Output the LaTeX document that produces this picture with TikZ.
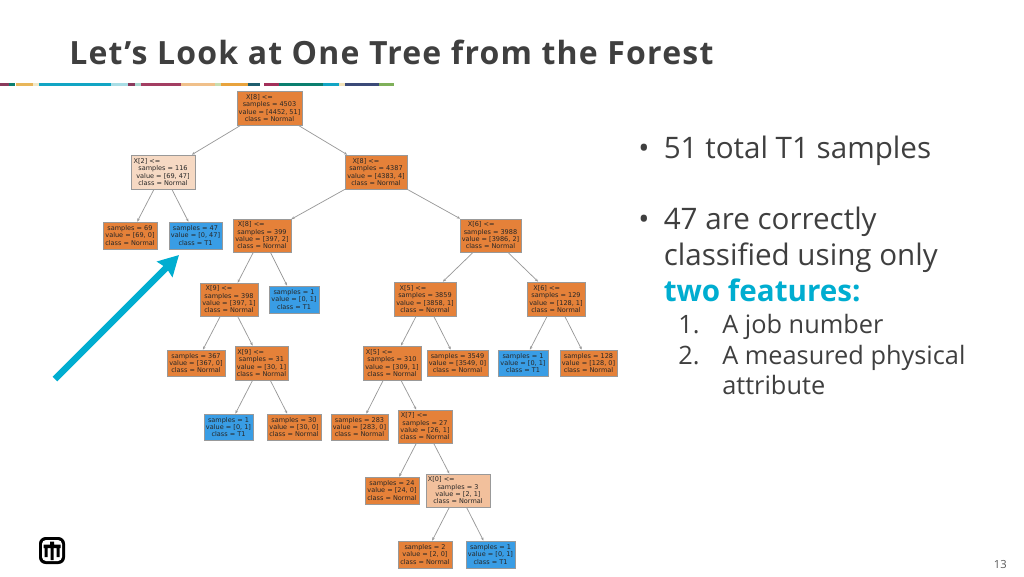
\documentclass[tikz,border=0pt]{standalone}
\usepackage{fontspec}
\usetikzlibrary{arrows.meta}
\setmainfont{Open Sans}
\newfontfamily\treefont{DejaVu Sans}
\definecolor{leaforange}{HTML}{E58139}
\definecolor{leafblue}{HTML}{399DE5}
\definecolor{paleorange}{HTML}{F6D9C3}
\definecolor{midorange}{HTML}{F2C09C}
\definecolor{arrowteal}{HTML}{00ADD0}
\definecolor{titlegray}{HTML}{3F3F3F}
% first line of a split box, pushed left by a hidden threshold
\newcommand{\featline}[2]{#1\rule{#2}{0pt}}
% name, left, top, right, bottom, fill, text
\newcommand{\treenode}[7]{
    \node[treebox,fill=#6,minimum width={(#4-#2)*.75pt},minimum height={(#5-#3)*.75pt}] (#1) at ({(#2+#4)/2},{(#3+#5)/2}) {#7};
}
\tikzset{
    treebox/.style={draw=black!40,line width=.5pt,inner sep=0pt,align=center,
        font=\treefont\fontsize{4.9}{5.5}\selectfont,text=black!85},
    treeedge/.style={draw=black!40,line width=.55pt,-{Stealth[length=2.5pt,width=2pt]}},
    bullettext/.style={anchor=base west,inner sep=0pt,font=\fontsize{22.2}{26}\selectfont,text=titlegray},
    subtext/.style={anchor=base west,inner sep=0pt,font=\fontsize{19}{24}\selectfont,text=titlegray}
}
\begin{document}
\begin{tikzpicture}[x=.75pt,y=-.75pt]
    \useasboundingbox (0,0) rectangle (1024,576);
    % title and colour bar
    \node[anchor=base west,inner sep=0pt,font=\bfseries\fontsize{24}{28}\selectfont\addfontfeature{LetterSpace=3.8},text=titlegray] (title) at (69,64) {Let’s Look at One Tree from the Forest};
    \foreach \a/\b/\c in {0/9/8A3A5C,9/15/0B7F6F,16/33/E8B65A,33/39/F2E8C8,39/111/12A5C4,111/128/A8DDE5,128/135/8A3A5C,135/141/A8D8D0,141/181/A33E62,181/215/F0C08A,215/221/C8DDB0,221/248/E8A33D,248/260/1F5E6E,260/264/FFFFFF,264/279/A3305A,279/323/0B7F6F,323/339/12A5C4,339/345/F2E2B8,345/379/3B4A78,379/394/7FB05A}{
        \definecolor{barcolor}{HTML}{\c}
        \fill[barcolor] (\a,83) rectangle (\b,86);
    };

    % the tree
    \treenode{root}{237}{91}{302}{125}{leaforange}{\featline{X[8] <=}{15pt}\\samples = 4503\\value = [4452, 51]\\class = Normal}
    \treenode{xtwo}{131}{155}{195}{189}{paleorange}{\featline{X[2] <=}{24pt}\\samples = 116\\value = [69, 47]\\class = Normal}
    \treenode{leafa}{103}{222}{157}{249}{leaforange}{samples = 69\\value = [69, 0]\\class = Normal}
    \treenode{leafb}{169}{222}{222}{249}{leafblue}{samples = 47\\value = [0, 47]\\class = T1}
    \treenode{xeight}{345}{155}{407}{189}{leaforange}{\featline{X[8] <=}{15pt}\\samples = 4387\\value = [4383, 4]\\class = Normal}
    \treenode{xeightb}{233}{219}{291}{252}{leaforange}{\featline{X[8] <=}{16pt}\\samples = 399\\value = [397, 2]\\class = Normal}
    \treenode{xsix}{460}{219}{521}{252}{leaforange}{\featline{X[6] <=}{14pt}\\samples = 3988\\value = [3986, 2]\\class = Normal}
    \treenode{xnine}{200}{283}{258}{316}{leaforange}{\featline{X[9] <=}{15pt}\\samples = 398\\value = [397, 1]\\class = Normal}
    \treenode{leafc}{269}{286}{319}{313}{leafblue}{samples = 1\\value = [0, 1]\\class = T1}
    \treenode{xfive}{394}{282}{456}{316}{leaforange}{\featline{X[5] <=}{18pt}\\samples = 3859\\value = [3858, 1]\\class = Normal}
    \treenode{xsixb}{527}{282}{585}{316}{leaforange}{\featline{X[6] <=}{14pt}\\samples = 129\\value = [128, 1]\\class = Normal}
    \treenode{leafd}{167}{350}{225}{376}{leaforange}{samples = 367\\value = [367, 0]\\class = Normal}
    \treenode{xnineb}{235}{346}{288}{380}{leaforange}{\featline{X[9] <=}{16pt}\\samples = 31\\value = [30, 1]\\class = Normal}
    \treenode{xfiveb}{363}{346}{421}{380}{leaforange}{\featline{X[5] <=}{19pt}\\samples = 310\\value = [309, 1]\\class = Normal}
    \treenode{leafe}{427}{350}{488}{376}{leaforange}{samples = 3549\\value = [3549, 0]\\class = Normal}
    \treenode{leaff}{498}{350}{548}{376}{leafblue}{samples = 1\\value = [0, 1]\\class = T1}
    \treenode{leafg}{560}{350}{617}{376}{leaforange}{samples = 128\\value = [128, 0]\\class = Normal}
    \treenode{leafh}{204}{414}{253}{440}{leafblue}{samples = 1\\value = [0, 1]\\class = T1}
    \treenode{leafi}{267}{414}{321}{440}{leaforange}{samples = 30\\value = [30, 0]\\class = Normal}
    \treenode{leafj}{331}{414}{388}{440}{leaforange}{samples = 283\\value = [283, 0]\\class = Normal}
    \treenode{xseven}{398}{410}{452}{443}{leaforange}{\featline{X[7] <=}{16pt}\\samples = 27\\value = [26, 1]\\class = Normal}
    \treenode{leafk}{365}{477}{419}{504}{leaforange}{samples = 24\\value = [24, 0]\\class = Normal}
    \treenode{xzero}{426}{474}{490}{507}{midorange}{\featline{X[0] <=}{25pt}\\samples = 3\\value = [2, 1]\\class = Normal}
    \treenode{leafl}{398}{541}{452}{568}{leaforange}{samples = 2\\value = [2, 0]\\class = Normal}
    \treenode{leafm}{466}{541}{515}{568}{leafblue}{samples = 1\\value = [0, 1]\\class = T1}

    \foreach \p/\q in {root/xtwo,root/xeight,xtwo/leafa,xtwo/leafb,xeight/xeightb,xeight/xsix,xeightb/xnine,xeightb/leafc,xsix/xfive,xsix/xsixb,xnine/leafd,xnine/xnineb,xfive/xfiveb,xfive/leafe,xsixb/leaff,xsixb/leafg,xnineb/leafh,xnineb/leafi,xfiveb/leafj,xfiveb/xseven,xseven/leafk,xseven/xzero,xzero/leafl,xzero/leafm}{
        \draw[treeedge] (\p) -- (\q);
    };

    % teal pointer
    \coordinate (pointerstart) at (55,379);
    \coordinate (pointertip) at (179,255);
    \draw[arrowteal,line width=4.8pt,-{Stealth[length=15pt,width=16pt,inset=1.5pt]}] (pointerstart) -- (pointertip);

    % bullets
    \node[bullettext] (dota) at (638,158) {•};
    \node[bullettext] (linea) at (663.5,158) {51 total T1 samples};
    \node[bullettext] (dotb) at (638,229.5) {•};
    \node[bullettext] (lineb) at (663.5,229.5) {47 are correctly};
    \node[bullettext] (linec) at (663.5,265.5) {classified using only};
    \node[bullettext,text=arrowteal,font=\bfseries\fontsize{22.2}{26}\selectfont] (lined) at (663.5,301.5) {two features:};
    \node[subtext] (numa) at (678,333.5) {1.};
    \node[subtext] (linee) at (722,333.5) {A job number};
    \node[subtext] (numb) at (678,364.5) {2.};
    \node[subtext] (linef) at (722,364.5) {A measured physical};
    \node[subtext] (lineg) at (722,394.5) {attribute};

    % logo and page number
    \fill[black,rounded corners=5pt] (39,537) rectangle (65,564);
    \fill[white,rounded corners=3pt] (42,540) rectangle (62,561);
    \fill[black] (50,541.5) rectangle (54,546) (43.5,544.5) rectangle (60.5,548) (44.5,548) rectangle (47.5,557) (50.5,548) rectangle (53.5,560) (56.5,548) rectangle (59.5,557);
    \node[anchor=base east,inner sep=0pt,font=\fontsize{8.4}{10}\selectfont,text=black!65] (pagenum) at (1007,568) {13};
\end{tikzpicture}
\end{document}
